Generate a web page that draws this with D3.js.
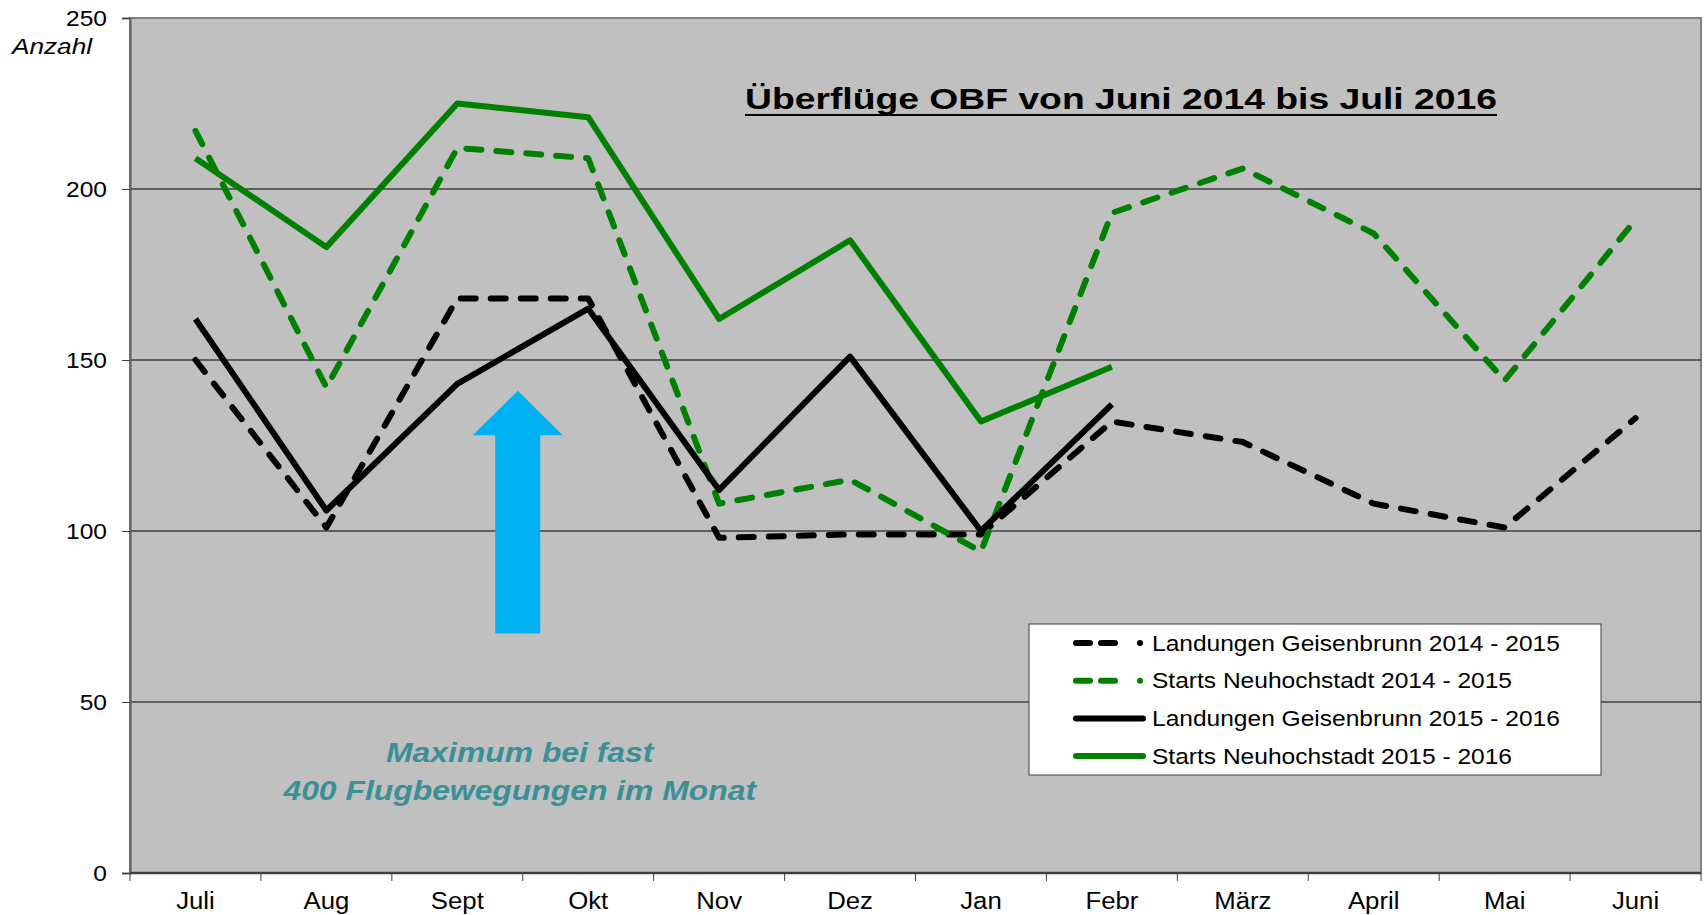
<!DOCTYPE html>
<html lang="de">
	<head>
		<meta charset="utf-8">
		<title>Überflüge OBF</title>
		<script type="text/javascript" src="https://cdn.jsdelivr.net/npm/d3@7"></script>
		<style type="text/css">
			body {
				margin: 0;
				background: #fff;
			}
			svg text {
				font-family: "Liberation Sans", Arial, Helvetica, sans-serif;
			}
			.axis text {
				font-size: 22px;
				fill: #000;
			}
			.legend text {
				font-size: 22px;
				fill: #000;
			}
		</style>
	</head>
	<body>
		<script type="text/javascript">

			//Data
			var months = ["Juli", "Aug", "Sept", "Okt", "Nov", "Dez", "Jan", "Febr", "März", "April", "Mai", "Juni"];
			var yTicks = [0, 50, 100, 150, 200, 250];

			var landungen1415 = [150, 101, 168, 168, 98, 99, 99, 132, 126, 108, 101, 133];
			var starts1415 = [217, 142, 212, 209, 108, 115, 94, 193, 206, 187, 144, 191];
			var landungen1516 = [162, 106, 143, 165, 112, 151, 100, 137];
			var starts1516 = [209, 183, 225, 221, 162, 185, 132, 148];

			var seriesNames = ["Landungen Geisenbrunn 2014 - 2015", "Starts Neuhochstadt 2014 - 2015",
				"Landungen Geisenbrunn 2015 - 2016", "Starts Neuhochstadt 2015 - 2016"];

			//Settings
			var w = 1704
			var h = 915
			var plotLeft = 130, plotRight = 1701, plotTop = 18, plotBottom = 873;

			var green = "#008000";
			var series = [
				{ name: seriesNames[0], values: landungen1415, color: "#000", dashed: true },
				{ name: seriesNames[1], values: starts1415, color: green, dashed: true },
				{ name: seriesNames[2], values: landungen1516, color: "#000", dashed: false },
				{ name: seriesNames[3], values: starts1516, color: green, dashed: false }
			];

			// the original renders its fonts a bit wider than Arial, so stretch them
			function stretch(sel, k) {
				sel.each(function() {
					var len = this.getComputedTextLength();
					d3.select(this)
						.attr("textLength", len * k)
						.attr("lengthAdjust", "spacingAndGlyphs");
				});
			}

			var svg = d3.select("body")
				.append("svg")
				.attr("width", w)
				.attr("height", h);

			var x = d3.scaleBand().domain(months).range([plotLeft, plotRight]);
			var y = d3.scaleLinear().domain([0, 250]).range([plotBottom, plotTop]);
			var bw = x.bandwidth();

			// plot area
			svg.append("rect")
				.attr("x", plotLeft)
				.attr("y", plotTop)
				.attr("width", plotRight - plotLeft)
				.attr("height", plotBottom - plotTop)
				.attr("fill", "#c0c0c0")
				.attr("stroke", "#808080")
				.attr("stroke-width", 2);

			// gridlines
			svg.selectAll("line.grid")
				.data(yTicks.filter(function(d) { return d > 0 && d < 250; }))
				.enter()
				.append("line")
				.attr("class", "grid")
				.attr("x1", plotLeft)
				.attr("x2", plotRight)
				.attr("y1", function(d) { return y(d); })
				.attr("y2", function(d) { return y(d); })
				.attr("stroke", "#000")
				.attr("stroke-width", 1);

			// y axis
			var yAxis = svg.append("g")
				.attr("class", "axis")
				.attr("transform", "translate(" + plotLeft + ",0)")
				.call(d3.axisLeft(y).tickValues(yTicks).tickSize(8).tickPadding(15));
			yAxis.select(".domain").attr("stroke", "#606060").attr("stroke-width", 2);
			yAxis.selectAll(".tick line").attr("stroke", "#404040");
			yAxis.selectAll("text").style("font-size", "22.5px").call(stretch, 1.09);

			// x axis: labels centred, ticks on the band boundaries
			var xAxis = svg.append("g")
				.attr("class", "axis")
				.attr("transform", "translate(0," + plotBottom + ")")
				.call(d3.axisBottom(x).tickSize(0).tickPadding(20));
			xAxis.select(".domain").remove();
			xAxis.selectAll("text").style("font-size", "23px").call(stretch, 1.12);

			svg.selectAll("line.xtick")
				.data(months.map(function(m) { return x(m); }).concat([plotRight]))
				.enter()
				.append("line")
				.attr("class", "xtick")
				.attr("x1", function(d) { return d; })
				.attr("x2", function(d) { return d; })
				.attr("y1", plotBottom)
				.attr("y2", plotBottom + 8)
				.attr("stroke", "#404040");

			svg.append("line")
				.attr("x1", plotLeft).attr("x2", plotRight)
				.attr("y1", plotBottom).attr("y2", plotBottom)
				.attr("stroke", "#404040")
				.attr("stroke-width", 2.5);

			// lines
			var line = d3.line()
				.x(function(d, i) { return x(months[i]) + bw / 2; })
				.y(function(d) { return y(d); });

			svg.selectAll("path.series")
				.data(series)
				.enter()
				.append("path")
				.attr("class", "series")
				.attr("d", function(d) { return line(d.values); })
				.attr("fill", "none")
				.attr("stroke", function(d) { return d.color; })
				.attr("stroke-width", 6)
				.attr("stroke-linejoin", "round")
				.attr("stroke-linecap", function(d) { return d.dashed ? "round" : "butt"; })
				.attr("stroke-dasharray", function(d) { return d.dashed ? "15,15" : null; });

			// arrow
			var ax = x("Okt") - 5;
			var arrow = [[ax - 22.5, y(70)], [ax - 22.5, y(128)], [ax - 45, y(128)], [ax, y(141)],
				[ax + 45, y(128)], [ax + 22.5, y(128)], [ax + 22.5, y(70)]];
			svg.append("path")
				.attr("d", d3.line()(arrow) + "Z")
				.attr("fill", "#00b0f0");

			// annotation
			var note = svg.append("g")
				.attr("fill", "#3a9096")
				.style("font-size", "27px")
				.style("font-weight", "bold")
				.style("font-style", "italic");
			note.append("text").attr("text-anchor", "middle").attr("x", ax + 2).attr("y", 762).text("Maximum bei fast");
			note.append("text").attr("text-anchor", "middle").attr("x", ax + 2).attr("y", 800).text("400 Flugbewegungen im Monat");
			note.selectAll("text").call(stretch, 1.18);

			// title
			svg.append("text")
				.attr("x", 745)
				.attr("y", 109)
				.attr("textLength", 752)
				.attr("lengthAdjust", "spacingAndGlyphs")
				.style("font-size", "29px")
				.style("font-weight", "bold")
				.text("Überflüge OBF von Juni 2014 bis Juli 2016");
			svg.append("line")
				.attr("x1", 745).attr("x2", 1497)
				.attr("y1", 115).attr("y2", 115)
				.attr("stroke", "#000")
				.attr("stroke-width", 2);

			// y label
			svg.append("text")
				.attr("x", 12)
				.attr("y", 54)
				.style("font-size", "22px")
				.style("font-style", "italic")
				.text("Anzahl")
				.call(stretch, 1.19);

			// legend
			var legend = svg.append("g").attr("class", "legend");
			legend.append("rect")
				.attr("x", 1029)
				.attr("y", 624)
				.attr("width", 572)
				.attr("height", 151)
				.attr("fill", "#fff")
				.attr("stroke", "#404040")
				.attr("stroke-width", 1);

			var rows = legend.selectAll("g.row")
				.data(series)
				.enter()
				.append("g")
				.attr("class", "row")
				.attr("transform", function(d, i) { return "translate(0," + (643 + i * 37.7) + ")"; });

			rows.append("line")
				.attr("x1", 1076)
				.attr("x2", 1143)
				.attr("stroke", function(d) { return d.color; })
				.attr("stroke-width", 6)
				.attr("stroke-linecap", "round")
				.attr("stroke-dasharray", function(d) { return d.dashed ? "14,11,14,25,0.01,20" : null; });

			rows.append("text")
				.attr("x", 1152)
				.attr("y", 7.5)
				.text(function(d) { return d.name; })
				.call(stretch, 1.115);

		</script>
	</body>
</html>
